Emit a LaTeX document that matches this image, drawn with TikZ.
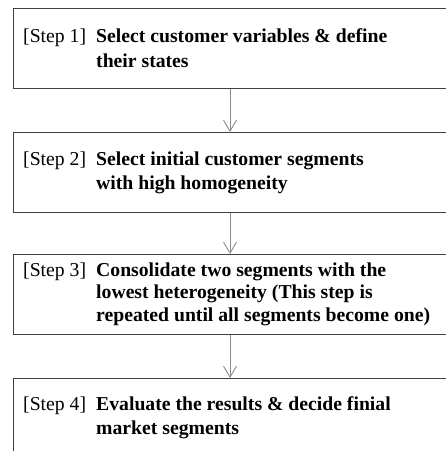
\documentclass[tikz,border=0pt]{standalone}
\usepackage{fontspec}
\setmainfont{Liberation Serif}
\usetikzlibrary{arrows.meta}
\definecolor{boxline}{HTML}{404040}
\definecolor{arrowgray}{HTML}{8C8C8C}
\begin{document}
\begin{tikzpicture}[x=1pt,y=-1pt,
  stepbox/.style={draw=boxline,line width=1.3pt,rectangle,minimum width=480pt,minimum height=80pt,anchor=north west,inner sep=0pt},
  steplabel/.style={anchor=base west,inner sep=0pt,font=\fontsize{19.7}{23}\selectfont},
  steptext/.style={anchor=base west,inner sep=0pt,font=\fontsize{19.7}{23}\selectfont\bfseries},
  flow/.style={draw=arrowgray,line width=0.9pt,-{Straight Barb[length=11pt,width=13pt,line width=0.9pt]}}]
\path[use as bounding box] (0,0) rectangle (446,451);
\clip (0,0) rectangle (446,451);
\fill[white] (0,0) rectangle (446,451);

\node[stepbox] (b1) at (13,8) {};
\node[stepbox] (b2) at (13,132) {};
\node[stepbox] (b3) at (13,254) {};
\node[stepbox] (b4) at (13,378) {};

\coordinate (ax) at (230,0);
\draw[flow] (b1.south -| ax) -- (b2.north -| ax);
\draw[flow] (b2.south -| ax) -- (b3.north -| ax);
\draw[flow] (b3.south -| ax) -- (b4.north -| ax);

% Step 1
\node[steplabel] (s1) at (23,42) {[Step 1]};
\node[steptext] (t1a) at (96,42) {Select customer variables \& define};
\node[steptext] (t1b) at (96,67) {their states};
% Step 2
\node[steplabel] (s2) at (23,165) {[Step 2]};
\node[steptext] (t2a) at (96,165) {Select initial customer segments};
\node[steptext] (t2b) at (96,189) {with high homogeneity};
% Step 3
\node[steplabel] (s3) at (23,276) {[Step 3]};
\node[steptext] (t3a) at (96,276) {Consolidate two segments with the};
\node[steptext] (t3b) at (96,298.5) {lowest heterogeneity (This step is};
\node[steptext] (t3c) at (96,321) {repeated until all segments become one)};
% Step 4
\node[steplabel] (s4) at (23,410) {[Step 4]};
\node[steptext] (t4a) at (96,410) {Evaluate the results \& decide finial};
\node[steptext] (t4b) at (96,434) {market segments};
\end{tikzpicture}
\end{document}
